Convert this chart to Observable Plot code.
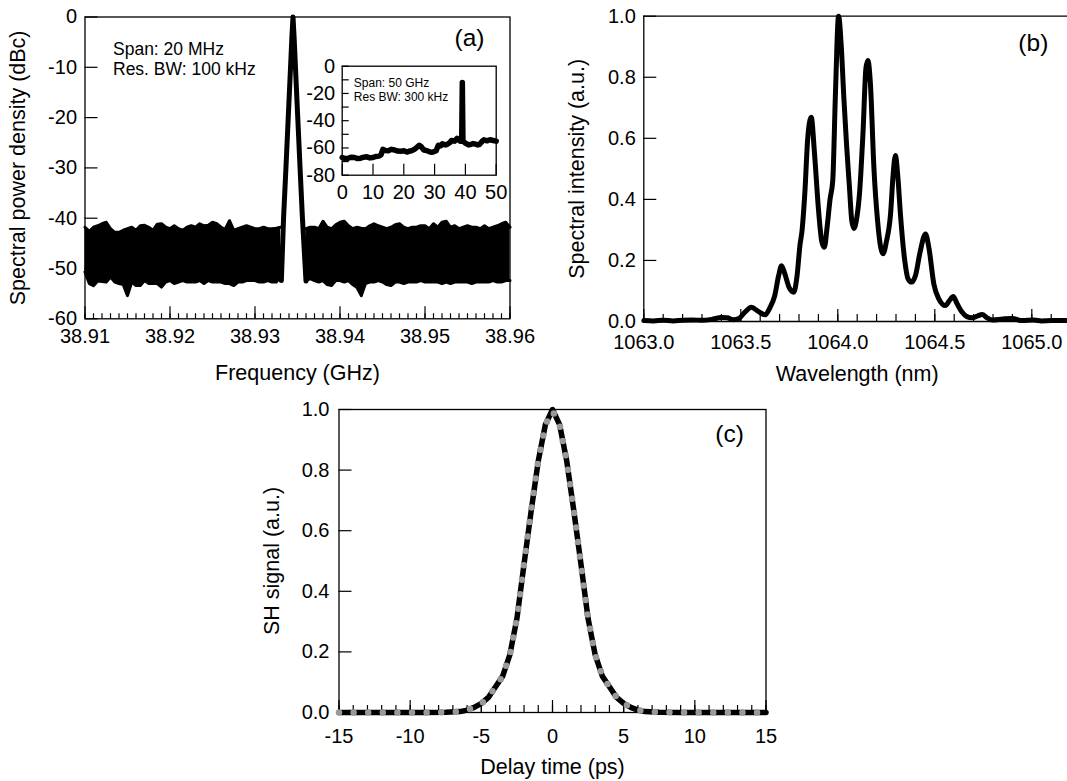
<!DOCTYPE html>
<html><head><meta charset="utf-8">
<script src="https://cdn.jsdelivr.net/npm/d3@7"></script>
<script src="https://cdn.jsdelivr.net/npm/@observablehq/plot@0.6"></script>
<style>
html,body{margin:0;padding:0;background:#fff;}
#root{position:relative;width:1067px;height:781px;overflow:hidden;background:#fff;}
</style></head><body><div id="root"></div>
<script>
// ================= DATA =================
// (a) main: RF spectrum, noise floor envelopes (GHz, dBc)
const noiseFreqLeft = [38.9100,38.9105,38.9110,38.9115,38.9120,38.9125,38.9130,38.9135,38.9140,38.9145,38.9150,38.9155,38.9160,38.9165,38.9170,38.9175,38.9180,38.9185,38.9190,38.9195,38.9200,38.9205,38.9210,38.9215,38.9220,38.9225,38.9230,38.9235,38.9240,38.9245,38.9250,38.9255,38.9260,38.9265,38.9270,38.9275,38.9280,38.9285,38.9290,38.9295,38.9300,38.9305,38.9310,38.9315,38.9320,38.9325,38.9330];
const noiseUpLeft = [-41.8,-42.6,-41.8,-41.5,-41.1,-40.8,-42.1,-42.8,-42.8,-42.4,-42.1,-41.8,-42.4,-41.5,-41.4,-41.8,-42.4,-41.2,-41.1,-41.8,-42.1,-41.5,-42.1,-42.4,-41.8,-41.5,-41.8,-41.1,-41.5,-41.4,-40.8,-41.1,-41.8,-42.2,-40.5,-42.4,-42.1,-41.8,-41.5,-41.8,-42.1,-42.1,-41.8,-42.1,-42.1,-42.0,-41.8];
const noiseLowLeft = [-50.7,-53.0,-53.4,-52.5,-52.6,-52.7,-51.7,-52.7,-53.0,-53.2,-55.4,-52.7,-53.4,-53.4,-52.4,-53.0,-53.0,-53.0,-53.7,-52.7,-52.4,-53.0,-52.7,-52.4,-52.7,-52.7,-52.7,-52.4,-53.0,-52.4,-52.7,-52.7,-52.7,-53.0,-53.0,-53.4,-52.7,-52.7,-52.4,-52.4,-52.4,-52.7,-52.7,-52.4,-52.7,-52.7,-51.7];
const noiseFreqRight = [38.9360,38.9365,38.9370,38.9375,38.9380,38.9385,38.9390,38.9395,38.9400,38.9405,38.9410,38.9415,38.9420,38.9425,38.9430,38.9435,38.9440,38.9445,38.9450,38.9455,38.9460,38.9465,38.9470,38.9475,38.9480,38.9485,38.9490,38.9495,38.9500,38.9505,38.9510,38.9515,38.9520,38.9525,38.9530,38.9535,38.9540,38.9545,38.9550,38.9555,38.9560,38.9565,38.9570,38.9575,38.9580,38.9585,38.9590,38.9595,38.9600];
const noiseUpRight = [-42.1,-41.8,-41.8,-42.1,-40.6,-41.8,-42.1,-41.3,-40.8,-40.6,-41.5,-42.1,-41.8,-42.0,-42.1,-41.5,-41.1,-41.5,-41.8,-42.1,-41.8,-41.3,-41.1,-41.8,-42.1,-41.8,-41.8,-41.5,-41.5,-42.1,-41.1,-41.8,-40.8,-40.6,-41.8,-41.5,-42.1,-41.8,-41.5,-41.8,-41.8,-42.1,-41.5,-42.1,-41.8,-41.5,-41.1,-40.8,-41.8];
const noiseLowRight = [-52.4,-52.0,-52.4,-52.7,-52.4,-53.2,-53.4,-52.4,-52.4,-52.7,-52.4,-53.2,-53.8,-55.4,-53.0,-52.7,-52.7,-52.4,-52.7,-53.2,-53.4,-52.7,-52.7,-53.0,-52.7,-52.7,-52.7,-52.4,-52.7,-52.7,-52.7,-52.7,-53.0,-52.7,-53.0,-52.7,-52.7,-52.7,-52.7,-53.0,-52.7,-52.7,-52.7,-52.7,-52.4,-52.7,-52.7,-52.4,-52.4];
const peakFreq = [38.9331,38.93336,38.93364,38.93391,38.93418,38.93434,38.93447,38.9346,38.93476,38.93503,38.9353,38.93558,38.9360];
const peakDb   = [-52.4,-40,-30,-20,-10,-4,0,-4,-10,-20,-30,-40,-52.5];
const xTicksA = [38.91,38.92,38.93,38.94,38.95,38.96];
const yTicksA = [0,-10,-20,-30,-40,-50,-60];

// (a) inset: 50 GHz span
const insetFreq = [0,1,2,3,4,5,6,7,8,9,10,11,12,12.6,13.2,14,15,16,17,18,19,20,21,22,22.5,23.5,24,25,25.6,26.5,27.5,28,29,29.5,30.5,31.2,32,32.5,33.5,34,35,35.5,36.5,37.3,38.3,38.8,39.0,39.2,40,41,41.5,42.5,43,44,44.5,45.5,46,47,48,49,50];
const insetDb   = [-67,-67.8,-67.5,-66.8,-67,-67.8,-67.5,-66.8,-66.5,-67.3,-67,-66.2,-66,-65,-61,-61.8,-62,-61,-61.5,-62.3,-62.5,-62,-63,-62.2,-62,-61,-60,-58,-59,-61.5,-62,-62.5,-63.2,-63,-62,-58,-58.5,-57,-57.8,-57.5,-56,-54.5,-55,-53,-55,-55,-12,-55,-56.5,-57.8,-57.5,-56.8,-57,-57.8,-57.5,-55,-54,-54.8,-54,-54.5,-55];
const xTicksInset = [0,10,20,30,40,50];
const yTicksInset = [0,-20,-40,-60,-80];

// (b) optical spectrum
const wavelength = [1063.00,1063.05,1063.10,1063.15,1063.20,1063.25,1063.30,1063.35,1063.40,1063.43,1063.46,1063.49,1063.52,1063.555,1063.59,1063.625,1063.65,1063.675,1063.695,1063.71,1063.725,1063.75,1063.773,1063.79,1063.805,1063.816,1063.83,1063.845,1063.863,1063.88,1063.90,1063.918,1063.931,1063.945,1063.96,1063.974,1063.988,1064.004,1064.018,1064.031,1064.045,1064.06,1064.072,1064.083,1064.098,1064.112,1064.13,1064.145,1064.155,1064.168,1064.186,1064.205,1064.222,1064.234,1064.25,1064.272,1064.285,1064.297,1064.31,1064.323,1064.345,1064.362,1064.38,1064.40,1064.425,1064.452,1064.47,1064.495,1064.52,1064.555,1064.575,1064.595,1064.615,1064.641,1064.665,1064.693,1064.72,1064.744,1064.77,1064.796,1064.85,1064.90,1064.95,1065.01,1065.05,1065.10,1065.184];
const intensity  = [0.003,0.002,0.004,0.002,0.004,0.005,0.004,0.007,0.013,0.012,0.006,0.010,0.030,0.047,0.033,0.022,0.045,0.085,0.150,0.183,0.160,0.110,0.096,0.150,0.250,0.300,0.420,0.600,0.669,0.550,0.370,0.260,0.243,0.310,0.400,0.462,0.750,1.000,0.900,0.735,0.580,0.440,0.330,0.305,0.340,0.420,0.620,0.830,0.855,0.780,0.505,0.330,0.240,0.222,0.260,0.353,0.480,0.544,0.470,0.350,0.200,0.140,0.129,0.150,0.230,0.287,0.240,0.123,0.075,0.052,0.068,0.082,0.058,0.030,0.016,0.012,0.018,0.023,0.012,0.005,0.008,0.010,0.003,0.005,0.002,0.003,0.003];
const xTicksB = [1063.0,1063.5,1064.0,1064.5,1065.0];
const yTicksB = [0,0.2,0.4,0.6,0.8,1.0];

// (c) autocorrelation trace
const delay    = [-15,-13,-11,-9,-7.5,-6.5,-6,-5.5,-5,-4.5,-4,-3.5,-3,-2.5,-2,-1.5,-1,-0.5,0,0.5,1,1.5,2,2.5,3,3.5,4,4.5,5,5.5,6,6.5,7.5,9,11,13,15];
const shSignal = [0,0,0,0,0.001,0.003,0.008,0.017,0.03,0.05,0.085,0.12,0.19,0.31,0.49,0.665,0.83,0.95,1.0,0.95,0.83,0.665,0.49,0.31,0.19,0.12,0.085,0.05,0.03,0.017,0.008,0.003,0.001,0,0,0,0];
const shFit    = [0,0,0,0,0.001,0.003,0.008,0.017,0.03,0.05,0.085,0.12,0.19,0.31,0.49,0.665,0.83,0.95,0.995,0.95,0.83,0.665,0.49,0.31,0.19,0.12,0.085,0.05,0.03,0.017,0.008,0.003,0.001,0,0,0,0];
const xTicksC = [-15,-10,-5,0,5,10,15];
const yTicksC = [0,0.2,0.4,0.6,0.8,1.0];

// ================= DRAW =================
const root = document.getElementById("root");
const FONT = '"Liberation Sans", Arial, Helvetica, sans-serif';
const K = "#000";
const TICK_FS = 20, TITLE_FS = 21.5, TAG_FS = 24.5;

function put(el, left, top) {
  el.style.position = "absolute";
  el.style.left = left + "px";
  el.style.top = top + "px";
  el.style.maxWidth = "none";
  root.appendChild(el);
}
function tickUp(values, frameH, len) {
  return Plot.tickX(values, {x: d => d, insetTop: frameH - len, stroke: K, strokeWidth: 1.2});
}
function tickRight(values, frameW, len) {
  return Plot.tickY(values, {y: d => d, insetRight: frameW - len, stroke: K, strokeWidth: 1.2});
}
const style = {fontFamily: FONT, background: "transparent", overflow: "hidden"};
const yTitle = (t) => Plot.text([t], {frameAnchor: "left", rotate: -90, textAnchor: "middle", lineAnchor: "middle", dx: -67, fontSize: TITLE_FS});

// ---------- Panel (a) ----------
{
  const W = 540, H = 392, mL = 84.5, mR = W - 509.5, mT = 16.5, mB = H - 318.3;
  const fW = W - mL - mR, fH = H - mT - mB;
  const minor = d3.range(0, 51).map(i => 38.91 + i / 1000);
  const p = Plot.plot({
    width: W, height: H, marginLeft: mL, marginRight: mR, marginTop: mT, marginBottom: mB,
    style,
    x: {domain: [38.91, 38.96]}, y: {domain: [-60, 0]},
    marks: [
      Plot.areaY(noiseFreqLeft, {x: noiseFreqLeft, y1: noiseLowLeft, y2: noiseUpLeft, fill: K}),
      Plot.line(noiseFreqLeft, {x: noiseFreqLeft, y: noiseUpLeft, stroke: K, strokeWidth: 3}),
      Plot.line(noiseFreqLeft, {x: noiseFreqLeft, y: noiseLowLeft, stroke: K, strokeWidth: 3}),
      Plot.areaY(noiseFreqRight, {x: noiseFreqRight, y1: noiseLowRight, y2: noiseUpRight, fill: K}),
      Plot.line(noiseFreqRight, {x: noiseFreqRight, y: noiseUpRight, stroke: K, strokeWidth: 3}),
      Plot.line(noiseFreqRight, {x: noiseFreqRight, y: noiseLowRight, stroke: K, strokeWidth: 3}),
      Plot.line(peakFreq, {x: peakFreq, y: peakDb, stroke: K, strokeWidth: 5, strokeLinejoin: "round"}),
      Plot.frame({stroke: K, strokeWidth: 1.3}),
      tickUp(minor, fH, 5),
      tickUp(xTicksA, fH, 12),
      tickRight(yTicksA, fW, 13),
      Plot.axisX(xTicksA, {tickSize: 0, tickPadding: 10, tickFormat: d => d.toFixed(2), fontSize: TICK_FS, label: null}),
      Plot.axisY(yTicksA, {tickSize: 0, tickPadding: 8, tickFormat: d => String(d), fontSize: TICK_FS, label: null}),
      Plot.text(["Frequency (GHz)"], {frameAnchor: "bottom", lineAnchor: "bottom", dy: 61.3, fontSize: TITLE_FS}),
      yTitle("Spectral power density (dBc)"),
      Plot.text(["(a)"], {frameAnchor: "top-right", textAnchor: "end", lineAnchor: "bottom", dx: -25.5, dy: 29, fontSize: TAG_FS}),
      Plot.text(["Span: 20 MHz\nRes. BW: 100 kHz"], {frameAnchor: "top-left", textAnchor: "start", lineAnchor: "bottom", dx: 28, dy: 58, fontSize: 17.5, lineHeight: 1.17})
    ]
  });
  put(p, 0, 0);
}

// ---------- Inset of (a) ----------
{
  const L = 290, T = 40, W = 230, H = 170;
  const mL = 341.7 - L, mR = W - (495.7 - L), mT = 65.7 - T, mB = H - (174.7 - T);
  const fW = W - mL - mR, fH = H - mT - mB;
  const p = Plot.plot({
    width: W, height: H, marginLeft: mL, marginRight: mR, marginTop: mT, marginBottom: mB,
    style,
    x: {domain: [0, 50]}, y: {domain: [-80, 0]},
    marks: [
      Plot.line(insetFreq, {x: insetFreq, y: insetDb, stroke: K, strokeWidth: 5.5, strokeLinejoin: "round"}),
      Plot.frame({stroke: K, strokeWidth: 1.3}),
      tickUp(xTicksInset, fH, 11),
      tickRight([0,-10,-20,-30,-40,-50,-60,-70,-80], fW, 7),
      Plot.axisX(xTicksInset, {tickSize: 0, tickPadding: 10, tickFormat: d => String(d), fontSize: TICK_FS, label: null}),
      Plot.axisY(yTicksInset, {tickSize: 0, tickPadding: 7, tickFormat: d => String(d), fontSize: TICK_FS, label: null}),
      Plot.text(["Span: 50 GHz\nRes BW: 300 kHz"], {frameAnchor: "top-left", textAnchor: "start", lineAnchor: "bottom", dx: 11.6, dy: 35, fontSize: 12, lineHeight: 1.17})
    ]
  });
  put(p, L, T);
}

// ---------- Panel (b) ----------
{
  const L = 530, W = 537, H = 392, mL = 643.3 - L, mR = 0, mT = 15.7, mB = H - 321;
  const fW = W - mL - mR, fH = H - mT - mB;
  const minor = d3.range(0, 23).map(i => 1063 + i / 10);
  const p = Plot.plot({
    width: W, height: H, marginLeft: mL, marginRight: mR, marginTop: mT, marginBottom: mB,
    style,
    x: {domain: [1063, 1065.184]}, y: {domain: [0, 1]},
    marks: [
      Plot.ruleY([0, 1], {stroke: K, strokeWidth: 1.3}),
      Plot.ruleX([1063], {stroke: K, strokeWidth: 1.3}),
      Plot.line(wavelength, {x: wavelength, y: intensity, stroke: K, strokeWidth: 5, curve: "monotone-x", strokeLinejoin: "round"}),
      tickUp(minor, fH, 7),
      tickUp(xTicksB, fH, 12),
      tickRight(yTicksB, fW, 13),
      Plot.axisX(xTicksB, {tickSize: 0, tickPadding: 13.5, tickFormat: d => d.toFixed(1), fontSize: TICK_FS, label: null}),
      Plot.axisY(yTicksB, {tickSize: 0, tickPadding: 8, tickFormat: d => d.toFixed(1), fontSize: TICK_FS, label: null}),
      Plot.text(["Wavelength (nm)"], {x: 1064.1, frameAnchor: "bottom", lineAnchor: "bottom", dy: 59.5, fontSize: TITLE_FS}),
      yTitle("Spectral intensity (a.u.)"),
      Plot.text(["(b)"], {x: 1065.0, frameAnchor: "top", textAnchor: "end", lineAnchor: "bottom", dx: 16.5, dy: 34.7, fontSize: TAG_FS})
    ]
  });
  put(p, L, 0);
}

// ---------- Panel (c) ----------
{
  const L = 260, T = 395, W = 540, H = 386;
  const mL = 338.5 - L, mR = W - (765.5 - L), mT = 409 - T, mB = H - (712 - T);
  const fW = W - mL - mR, fH = H - mT - mB;
  const minor = d3.range(-15, 16);
  const p = Plot.plot({
    width: W, height: H, marginLeft: mL, marginRight: mR, marginTop: mT, marginBottom: mB,
    style,
    x: {domain: [-15, 15]}, y: {domain: [0, 1]},
    marks: [
      Plot.frame({stroke: K, strokeWidth: 1.3}),
      tickUp(minor, fH, 7),
      tickUp(xTicksC, fH, 12),
      tickRight(yTicksC, fW, 13),
      Plot.line(delay, {x: delay, y: shSignal, stroke: K, strokeWidth: 5.5, strokeLinejoin: "round"}),
      Plot.line(delay, {x: delay, y: shFit, stroke: "#999999", strokeWidth: 6.5, strokeLinecap: "round", strokeDasharray: "0 14.6"}),
      Plot.axisX(xTicksC, {tickSize: 0, tickPadding: 16, tickFormat: d => String(d), fontSize: TICK_FS, label: null}),
      Plot.axisY(yTicksC, {tickSize: 0, tickPadding: 9.5, tickFormat: d => d.toFixed(1), fontSize: TICK_FS, label: null}),
      Plot.text(["Delay time (ps)"], {frameAnchor: "bottom", lineAnchor: "bottom", dy: 61.3, fontSize: TITLE_FS}),
      yTitle("SH signal (a.u.)"),
      Plot.text(["(c)"], {frameAnchor: "top-right", textAnchor: "end", lineAnchor: "bottom", dx: -22.2, dy: 32.7, fontSize: TAG_FS})
    ]
  });
  put(p, L, T);
}
</script>
</body></html>
